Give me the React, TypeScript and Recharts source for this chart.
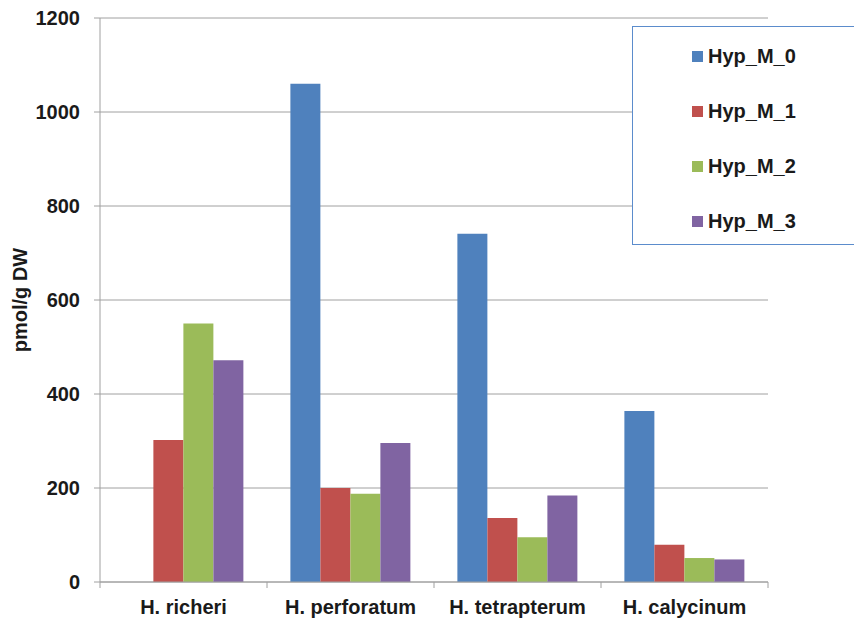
import { BarChart, Bar, XAxis, YAxis, CartesianGrid, Label } from "recharts";

const categories = ["H. richeri", "H. perforatum", "H. tetrapterum", "H. calycinum"];
const seriesNames = ["Hyp_M_0", "Hyp_M_1", "Hyp_M_2", "Hyp_M_3"];
const hypM0 = [0, 1060, 741, 364];
const hypM1 = [302, 200, 136, 79];
const hypM2 = [550, 188, 95, 51];
const hypM3 = [472, 296, 184, 48];
const yTicks = [0, 200, 400, 600, 800, 1000, 1200];

const colors = ["#4f81bd", "#c0504d", "#9bbb59", "#8064a2"];
const FONT = '"Liberation Sans", Arial, sans-serif';
const GRID = "#a0a0a0";

const data = categories.map((name, i) => ({
  name,
  [seriesNames[0]]: hypM0[i],
  [seriesNames[1]]: hypM1[i],
  [seriesNames[2]]: hypM2[i],
  [seriesNames[3]]: hypM3[i],
}));

// Excel-style ticks: marks sit on category boundaries, label in the middle
const CategoryTick = (props: any) => {
  const { x, y, payload, index, visibleTicksCount, width } = props;
  const half = payload && payload.offset ? payload.offset : width / visibleTicksCount / 2;
  const isLast = index === visibleTicksCount - 1;
  return (
    <g>
      <line x1={x - half} x2={x - half} y1={y} y2={y + 6} stroke={GRID} />
      {isLast && <line x1={x + half} x2={x + half} y1={y} y2={y + 6} stroke={GRID} />}
      <text
        x={x}
        y={y + 32}
        textAnchor="middle"
        fill="#1a1a1a"
        fontSize={20}
        fontWeight="bold"
        fontFamily={FONT}
      >
        {payload.value}
      </text>
    </g>
  );
};

const YLabel = (props: any) => {
  const vb = props.viewBox || {};
  const cy = (vb.y || 0) + (vb.height || 0) / 2;
  return (
    <text
      transform={`translate(27, ${cy}) rotate(-90)`}
      textAnchor="middle"
      fill="#1a1a1a"
      fontSize={20}
      fontWeight="bold"
      fontFamily={FONT}
    >
      pmol/g DW
    </text>
  );
};

function ChartLegend() {
  return (
    <div
      style={{
        position: "absolute",
        left: 632,
        top: 26,
        width: 222,
        height: 219,
        border: "1px solid #5b8ccc",
        borderRight: "none",
        background: "#fff",
        boxSizing: "border-box",
        paddingTop: 2,
        fontFamily: FONT,
      }}
    >
      {seriesNames.map((name, i) => (
        <div
          key={name}
          style={{ height: 55, display: "flex", alignItems: "center", paddingLeft: 59 }}
        >
          <span
            style={{ width: 11, height: 11, background: colors[i], marginRight: 5, display: "inline-block" }}
          />
          <span style={{ fontSize: 20, fontWeight: "bold", color: "#1a1a1a" }}>{name}</span>
        </div>
      ))}
    </div>
  );
}

export default function App() {
  return (
    <div style={{ position: "absolute", left: 0, top: 0, width: 854, height: 621, overflow: "hidden", background: "#fff" }}>
      <BarChart
        width={854}
        height={621}
        data={data}
        margin={{ top: 18, right: 86, bottom: 0, left: 0 }}
        barCategoryGap="14%"
        barGap={0}
      >
        <CartesianGrid vertical={false} stroke={GRID} />
        <XAxis
          dataKey="name"
          height={39}
          stroke={GRID}
          tickLine={false}
          tickSize={0}
          tickMargin={0}
          interval={0}
          tick={<CategoryTick />}
        />
        <YAxis
          width={100}
          domain={[0, 1200]}
          ticks={yTicks}
          interval={0}
          stroke={GRID}
          tickLine={{ stroke: GRID }}
          tickSize={6}
          tickMargin={14}
          tick={{ fill: "#1a1a1a", fontSize: 20, fontWeight: "bold", fontFamily: FONT }}
        >
          <Label content={<YLabel />} />
        </YAxis>
        {seriesNames.map((name, i) => (
          <Bar key={name} dataKey={name} fill={colors[i]} isAnimationActive={false} />
        ))}
      </BarChart>
      <ChartLegend />
    </div>
  );
}
